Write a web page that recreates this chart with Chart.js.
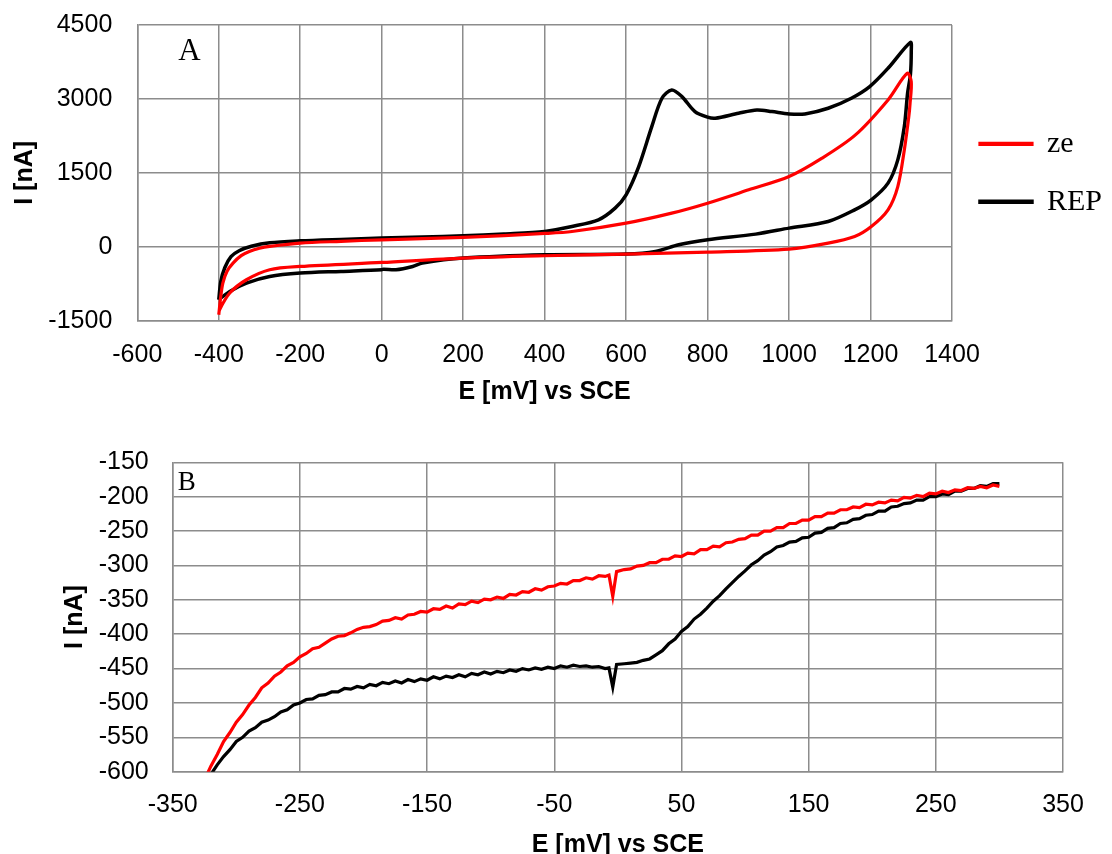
<!DOCTYPE html>
<html>
<head>
<meta charset="utf-8">
<script src="https://cdn.jsdelivr.net/npm/chart.js@4"></script>
<style>
  html, body { margin: 0; padding: 0; background: #fff; overflow: hidden; }
  #boxA { position: absolute; left: 0; top: -15px; width: 1112px; height: 435px; }
  #boxB { position: absolute; left: 0; top: 420px; width: 1112px; height: 460px; }
</style>
</head>
<body>
<div id="boxA"><canvas id="chartA" width="1112" height="435"></canvas></div>
<div id="boxB"><canvas id="chartB" width="1112" height="460"></canvas></div>
<script>
// panel A - full cyclic voltammograms
var seriesNames = ['ze', 'REP'];

var aZeE = [-400, -395, -390, -380, -365, -345, -325, -300, -275, -200, -100, 0, 200, 400, 467, 600, 712, 800, 901, 1000, 1081, 1163, 1243, 1290,
  1300, 1297, 1294, 1283, 1267, 1243, 1202, 1161, 1096, 1000, 800, 600, 400, 200, 0, -200, -275, -332, -373, -398, -400];
var aZeI = [-1380, -1000, -736, -500, -331, -180, -95, -30, 7, 74, 110, 142, 189, 270, 310, 480, 683, 885, 1155, 1425, 1798, 2270, 2980, 3520,
  3350, 2900, 2641, 1966, 1222, 750, 412, 209, 74, -47, -108, -148, -182, -230, -318, -399, -466, -669, -939, -1277, -1380];

var aRepE = [-400, -395, -385, -370, -350, -320, -275, -200, -100, 0, 100, 200, 300, 400, 467, 532, 573, 600, 631, 663, 688, 712, 737, 769, 800, 819, 876, 921, 958, 1000, 1039, 1096, 1153, 1198, 1243, 1298,
  1300, 1298, 1291, 1283, 1267, 1243, 1202, 1161, 1096, 1000, 918, 800, 729, 672, 600, 400, 200, 100, 76, 35, 5, 0, -100, -200, -275, -332, -373, -400];
var aRepI = [-1075, -700, -420, -200, -80, 10, 80, 120, 150, 176, 200, 223, 260, 310, 412, 547, 784, 1054, 1628, 2439, 3014, 3182, 3047, 2743, 2629, 2608, 2710, 2777, 2743, 2696, 2696, 2811, 3014, 3250, 3622, 4149,
  3959, 3500, 3115, 2439, 1763, 1291, 953, 750, 513, 378, 257, 142, 41, -95, -148, -162, -230, -330, -399, -466, -455, -466, -500, -534, -602, -736, -905, -1074];

var aTicksX = [-600, -400, -200, 0, 200, 400, 600, 800, 1000, 1200, 1400];
var aTicksY = [-1500, 0, 1500, 3000, 4500];

// panel B - zoom on the cathodic branch (same potentials for both traces)
var bE = [-330, -325, -320, -315, -310, -305, -300, -295, -290, -285, -280, -275, -270, -265, -260, -255, -250, -245, -240, -235,
  -230, -225, -220, -215, -210, -205, -200, -195, -190, -185, -180, -175, -170, -165, -160, -155, -150, -145, -140, -135,
  -130, -125, -120, -115, -110, -105, -100, -95, -90, -85, -80, -75, -70, -65, -60, -55, -50, -45, -40, -35,
  -30, -25, -20, -15, -10, -7, -4, -1, 5, 10, 15, 20, 25, 30, 35, 40, 45, 50, 55, 60,
  65, 70, 75, 80, 85, 90, 95, 100, 105, 110, 115, 120, 125, 130, 135, 140, 145, 150, 155, 160,
  165, 170, 175, 180, 185, 190, 195, 200, 205, 210, 215, 220, 225, 230, 235, 240, 245, 250, 255, 260,
  265, 270, 275, 280, 285, 290, 295, 300];
var bZeI = [-635, -612, -592, -575, -556, -543, -528, -517, -503, -492, -478, -471, -461, -455, -446, -441, -433, -428, -421, -419,
  -413, -407, -403, -402, -398, -393, -390, -389, -386, -381, -380, -376, -378, -372, -371, -367, -368, -363, -364, -359,
  -362, -356, -357, -352, -354, -349, -350, -346, -348, -342, -343, -338, -339, -334, -336, -331, -330, -326, -327, -322,
  -322, -318, -320, -315, -316, -314, -345, -309, -306, -305, -301, -300, -296, -296, -291, -291, -286, -287, -282, -283,
  -277, -277, -272, -273, -267, -266, -262, -261, -256, -256, -250, -250, -245, -245, -239, -239, -234, -234, -229, -229,
  -224, -224, -219, -219, -215, -216, -211, -212, -208, -209, -205, -206, -201, -202, -198, -200, -195, -196, -192, -194,
  -190, -191, -187, -188, -185, -187, -183, -185];
var bRepI = [-630, -618, -604, -590, -578, -568, -556, -550, -541, -536, -528, -525, -520, -513, -510, -503, -500, -495, -494, -489,
  -488, -484, -484, -479, -480, -476, -478, -473, -475, -470, -472, -468, -471, -466, -469, -465, -467, -462, -465, -461,
  -463, -459, -462, -457, -459, -455, -458, -454, -456, -452, -454, -450, -452, -449, -451, -448, -450, -446, -448, -445,
  -447, -446, -448, -447, -450, -449, -477, -444, -443, -442, -441, -438, -436, -430, -424, -414, -407, -396, -389, -378,
  -371, -362, -352, -344, -334, -325, -316, -308, -299, -293, -285, -280, -273, -271, -266, -265, -260, -259, -253, -252,
  -246, -245, -239, -238, -233, -232, -227, -226, -221, -221, -215, -214, -210, -209, -205, -205, -200, -200, -196, -197,
  -192, -192, -188, -188, -184, -185, -181, -181];

var bTicksX = [-350, -250, -150, -50, 50, 150, 250, 350];
var bTicksY = [-600, -550, -500, -450, -400, -350, -300, -250, -200, -150];

var lineColors = ['#ff0000', '#000000'];
var gridGray = '#8c8c8c';
var sansFont = '"Liberation Sans", Arial, sans-serif';
var serifFont = '"Liberation Serif", "Times New Roman", serif';

function toPoints(xs, ys) {
  return xs.map(function (x, i) { return { x: x, y: ys[i] }; });
}

function lineSet(label, xs, ys, color, width, tension) {
  return {
    label: label,
    data: toPoints(xs, ys),
    showLine: true,
    borderColor: color,
    backgroundColor: color,
    borderWidth: width,
    pointRadius: 0,
    tension: tension,
    clip: 0
  };
}

// draws the "A" / "B" panel letter inside the plot
var panelLabel = {
  id: 'panelLabel',
  afterDraw: function (chart, args, opts) {
    var ctx = chart.ctx;
    ctx.save();
    ctx.font = opts.size + 'px ' + serifFont;
    ctx.fillStyle = '#000';
    ctx.textBaseline = 'alphabetic';
    ctx.fillText(opts.text, chart.chartArea.left + opts.dx, chart.chartArea.top + opts.dy);
    ctx.restore();
  }
};

function plainTick(v) { return String(v); }

function axes(xTicks, yTicks, xMin, xMax, yMin, yMax, yWidth, xHeight, tickPadX, tickPadY, titlePadX, titlePadY) {
  return {
    x: {
      type: 'linear', min: xMin, max: xMax,
      afterBuildTicks: function (s) { s.ticks = xTicks.map(function (v) { return { value: v }; }); },
      afterFit: function (s) { s.height = xHeight; },
      grid: { color: gridGray, lineWidth: 1.5, drawTicks: false },
      border: { color: gridGray, width: 1.5 },
      ticks: { color: '#000', padding: tickPadX, font: { family: sansFont, size: 25 }, maxRotation: 0, autoSkip: false, callback: plainTick },
      title: { display: true, text: 'E [mV] vs SCE', color: '#000', font: { family: sansFont, size: 25, weight: 'bold' }, padding: { top: 0, bottom: titlePadX } }
    },
    y: {
      type: 'linear', min: yMin, max: yMax,
      afterBuildTicks: function (s) { s.ticks = yTicks.map(function (v) { return { value: v }; }); },
      afterFit: function (s) { s.width = yWidth; },
      grid: { color: gridGray, lineWidth: 1.5, drawTicks: false },
      border: { color: gridGray, width: 1.5 },
      ticks: { color: '#000', padding: tickPadY, font: { family: sansFont, size: 25 }, autoSkip: false, callback: plainTick },
      title: { display: true, text: 'I [nA]', color: '#000', font: { family: sansFont, size: 25, weight: 'bold' }, padding: { top: titlePadY, bottom: 0 } }
    }
  };
}

new Chart(document.getElementById('chartA').getContext('2d'), {
  type: 'scatter',
  data: {
    datasets: [
      lineSet(seriesNames[0], aZeE, aZeI, lineColors[0], 3.2, 0.3),
      lineSet(seriesNames[1], aRepE, aRepI, lineColors[1], 3.5, 0.3)
    ]
  },
  options: {
    responsive: false,
    animation: false,
    layout: { padding: { top: 10, left: 0, right: 0, bottom: 0 } },
    scales: axes(aTicksX, aTicksY, -600, 1400, -1500, 4500, 137.3, 99.3, 19, 25, 13, 10),
    plugins: {
      tooltip: { enabled: false },
      legend: {
        position: 'right',
        fullSize: false,
        labels: {
          color: '#000',
          font: { family: serifFont, size: 30 },
          boxWidth: 52,
          boxHeight: 1,
          padding: 28
        }
      },
      panelLabel: { text: 'A', dx: 41, dy: 35, size: 31 }
    }
  },
  plugins: [panelLabel]
});

new Chart(document.getElementById('chartB').getContext('2d'), {
  type: 'scatter',
  data: {
    datasets: [
      lineSet(seriesNames[0], bE, bZeI, lineColors[0], 3.2, 0),
      lineSet(seriesNames[1], bE, bRepI, lineColors[1], 3.2, 0)
    ]
  },
  options: {
    responsive: false,
    animation: false,
    layout: { padding: { top: 42.3, left: 0, right: 49, bottom: 0 } },
    scales: axes(bTicksX, bTicksY, -350, 350, -600, -150, 172.7, 108.3, 18, 24, 20, 60),
    plugins: {
      tooltip: { enabled: false },
      legend: { display: false },
      panelLabel: { text: 'B', dx: 5, dy: 28, size: 27 }
    }
  },
  plugins: [panelLabel]
});
</script>
</body>
</html>
